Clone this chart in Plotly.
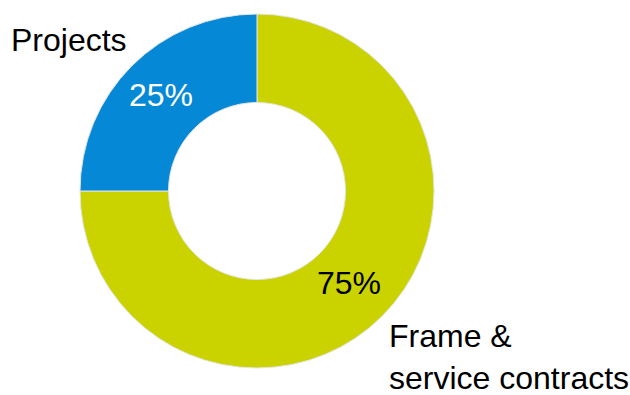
import math
import plotly.graph_objects as go

# Revenue split by business type
labels = ["Frame & service contracts", "Projects"]
values = [75, 25]
colors = ["#CAD300", "#0588D6"]
label_lines = ["Frame &<br>service contracts", "Projects"]
pct_colors = ["#000000", "#FFFFFF"]

W, H = 630, 395
cx, cy, R = 257, 191, 177  # pie center and radius in pixels
hole = 0.5

fig = go.Figure(
    go.Pie(
        labels=labels,
        values=values,
        hole=hole,
        sort=False,
        direction="clockwise",
        rotation=0,
        marker=dict(colors=colors, line=dict(color="#e4e4e4", width=1)),
        textinfo="none",
        hoverinfo="label+percent",
        showlegend=False,
        domain=dict(x=[(cx - R) / W, (cx + R) / W], y=[1 - (cy + R) / H, 1 - (cy - R) / H]),
    )
)

font = dict(family="Liberation Sans, Arial, sans-serif", size=32)

# percentage labels at the middle of each ring segment
total = sum(values)
start = 0.0
r_mid = R * (1 + hole) / 2
annotations = []
for v, c in zip(values, pct_colors):
    mid = (start + v / 2) / total * 2 * math.pi  # clockwise from 12 o'clock
    start += v
    px = cx + r_mid * math.sin(mid)
    py = cy - r_mid * math.cos(mid)
    annotations.append(dict(
        x=(px - 2) / W, y=1 - (py - 2) / H, xref="paper", yref="paper",
        text=f"{round(v / total * 100)}%", showarrow=False,
        font=dict(font, color=c), xanchor="center", yanchor="middle",
    ))

# category names
annotations.append(dict(
    x=9 / W, y=1 - 40 / H, xref="paper", yref="paper", text=label_lines[1],
    showarrow=False, font=dict(font, color="#000000"), xanchor="left", yanchor="middle",
))
annotations.append(dict(
    x=387 / W, y=1 - 357 / H, xref="paper", yref="paper", text=label_lines[0],
    showarrow=False, font=dict(font, color="#000000"), xanchor="left", yanchor="middle",
    align="left",
))

fig.update_layout(
    width=W, height=H,
    margin=dict(l=0, r=0, t=0, b=0),
    paper_bgcolor="white", plot_bgcolor="white",
    annotations=annotations,
)

fig.write_html("out.html")
